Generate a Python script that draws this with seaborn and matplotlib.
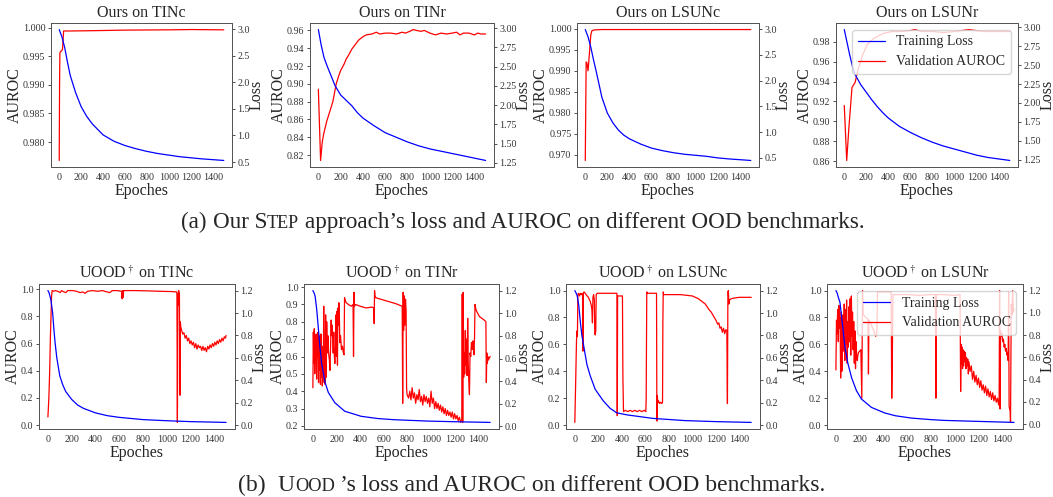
import matplotlib
matplotlib.use("Agg")
import matplotlib.pyplot as plt
from matplotlib.ticker import MultipleLocator
import seaborn as sns

# ---------------- data (epoch, value) ----------------
# top row: our approach
ours_tinc_loss = [(0, 2.99), (25, 2.85), (50, 2.65), (75, 2.38), (100, 2.13), (150, 1.80), (200, 1.54),
                  (250, 1.36), (300, 1.22), (400, 1.01), (500, 0.89), (600, 0.81), (700, 0.75), (800, 0.70),
                  (900, 0.66), (1000, 0.63), (1100, 0.60), (1200, 0.58), (1300, 0.56), (1400, 0.545), (1500, 0.53)]
ours_tinc_auroc = [(0, 0.9768), (3, 0.9900), (6, 0.9955), (10, 0.9958), (20, 0.9959), (30, 0.9962), (40, 0.9994),
                   (100, 0.9994), (300, 0.99945), (600, 0.99955), (1000, 0.9996), (1200, 0.99965), (1500, 0.9996)]

ours_tinr_loss = [(0, 2.98), (25, 2.78), (50, 2.62), (75, 2.52), (100, 2.43), (150, 2.25), (200, 2.13),
                  (250, 2.06), (300, 1.99), (350, 1.90), (400, 1.83), (500, 1.73), (600, 1.64), (700, 1.58),
                  (800, 1.52), (900, 1.47), (1000, 1.43), (1100, 1.40), (1200, 1.37), (1300, 1.34), (1400, 1.31), (1500, 1.28)]
ours_tinr_auroc = [(0, 0.894), (20, 0.814), (35, 0.835), (50, 0.845), (75, 0.858), (100, 0.868), (130, 0.880),
                   (160, 0.900), (180, 0.908), (200, 0.915), (230, 0.922), (250, 0.928), (270, 0.932), (300, 0.939),
                   (330, 0.944), (360, 0.949), (380, 0.951), (400, 0.953), (430, 0.955), (480, 0.956), (520, 0.958),
                   (550, 0.956), (600, 0.957), (650, 0.957), (700, 0.956), (750, 0.958), (780, 0.957), (820, 0.959),
                   (850, 0.961), (880, 0.960), (920, 0.959), (950, 0.960), (1000, 0.957), (1050, 0.955), (1100, 0.957),
                   (1150, 0.956), (1200, 0.957), (1240, 0.958), (1270, 0.955), (1300, 0.957), (1350, 0.957),
                   (1400, 0.955), (1430, 0.957), (1460, 0.956), (1500, 0.956)]

ours_lsunc_loss = [(0, 2.99), (25, 2.85), (50, 2.65), (75, 2.40), (100, 2.17), (150, 1.68), (200, 1.37),
                   (250, 1.18), (300, 1.04), (350, 0.94), (400, 0.87), (500, 0.77), (600, 0.69), (700, 0.64),
                   (800, 0.60), (900, 0.57), (1000, 0.55), (1100, 0.53), (1200, 0.50), (1300, 0.48), (1400, 0.465), (1500, 0.45)]
ours_lsunc_auroc = [(0, 0.9687), (8, 0.9921), (15, 0.9919), (25, 0.9900), (30, 0.9915), (40, 0.9950), (50, 0.9985),
                    (60, 0.9995), (80, 0.9997), (150, 0.9998), (600, 0.9998), (1000, 0.9998), (1500, 0.9998)]

ours_lsunr_loss = [(0, 2.97), (25, 2.80), (50, 2.63), (75, 2.48), (100, 2.37), (150, 2.24), (200, 2.14),
                   (250, 2.04), (300, 1.95), (350, 1.87), (400, 1.80), (500, 1.69), (600, 1.61), (700, 1.54),
                   (800, 1.48), (900, 1.43), (1000, 1.39), (1100, 1.35), (1200, 1.31), (1300, 1.28), (1400, 1.26), (1500, 1.24)]
ours_lsunr_auroc = [(0, 0.916), (22, 0.861), (42, 0.894), (70, 0.934), (98, 0.939), (125, 0.952), (167, 0.967),
                    (209, 0.977), (265, 0.983), (349, 0.988), (432, 0.990), (520, 0.990), (600, 0.991), (640, 0.992),
                    (700, 0.990), (800, 0.990), (900, 0.989), (1000, 0.990), (1130, 0.992), (1250, 0.990),
                    (1400, 0.990), (1500, 0.990)]

# bottom row: UOOD
uood_tinc_loss = [(0, 1.20), (10, 1.18), (25, 1.12), (40, 1.00), (50, 0.86), (60, 0.74), (75, 0.60), (100, 0.44),
                  (125, 0.36), (150, 0.30), (200, 0.23), (250, 0.18), (300, 0.15), (400, 0.11), (500, 0.085),
                  (600, 0.07), (800, 0.05), (1000, 0.04), (1200, 0.032), (1500, 0.025)]
uood_tinc_auroc = [(0, 0.06), (8, 0.20), (15, 0.40), (21, 0.65), (26, 0.80), (31, 0.95), (36, 0.99), (47, 0.985),
                   (63, 0.99), (83, 0.985), (104, 0.975), (115, 0.99), (136, 0.98), (151, 0.975), (167, 0.99),
                   (209, 0.99), (240, 0.985), (271, 0.975), (292, 0.98), (313, 0.97), (334, 0.985), (375, 0.99),
                   (417, 0.985), (459, 0.99), (500, 0.98), (521, 0.975), (542, 0.99), (584, 0.99), (620, 0.985),
                   (625, 0.93), (629, 0.99), (633, 0.94), (637, 0.99), (680, 0.99), (730, 0.99), (835, 0.988),
                   (940, 0.985), (1040, 0.983), (1086, 0.98), (1090, 0.02), (1094, 0.97), (1098, 0.88), (1101, 0.99),
                   (1104, 0.90), (1107, 0.97), (1111, 0.22), (1115, 0.76), (1119, 0.72),
                   (1125, 0.70), (1135, 0.67), (1145, 0.68), (1155, 0.64), (1165, 0.66), (1175, 0.62), (1185, 0.64),
                   (1195, 0.60), (1205, 0.62), (1215, 0.59), (1225, 0.61), (1235, 0.57), (1245, 0.60), (1255, 0.56),
                   (1265, 0.59), (1275, 0.57), (1285, 0.58), (1295, 0.55), (1305, 0.58), (1315, 0.55), (1325, 0.57),
                   (1335, 0.54), (1345, 0.58), (1355, 0.56), (1365, 0.59), (1375, 0.57), (1385, 0.60), (1395, 0.58),
                   (1405, 0.61), (1415, 0.59), (1425, 0.62), (1435, 0.60), (1445, 0.63), (1455, 0.61), (1465, 0.64),
                   (1475, 0.62), (1485, 0.65), (1495, 0.64), (1500, 0.66)]

uood_tinr_loss = [(0, 1.20), (10, 1.18), (19, 1.15), (33, 1.03), (47, 0.86), (61, 0.69), (75, 0.55), (103, 0.39),
                  (131, 0.30), (186, 0.21), (269, 0.135), (408, 0.09), (550, 0.07), (686, 0.06), (964, 0.048),
                  (1200, 0.042), (1500, 0.036)]
uood_tinr_auroc = [(0, 0.42), (4, 0.74), (8, 0.56), (12, 0.76), (16, 0.50), (20, 0.72), (24, 0.58), (28, 0.73),
                   (32, 0.47), (36, 0.70), (40, 0.60), (44, 0.74), (48, 0.45), (52, 0.72), (56, 0.52), (60, 0.71),
                   (64, 0.44), (68, 0.73), (72, 0.48), (76, 0.66), (80, 0.43), (84, 0.55), (88, 0.47), (92, 0.89),
                   (96, 0.45), (100, 0.60), (103, 0.44), (108, 0.84), (112, 0.48), (117, 0.80), (122, 0.62),
                   (127, 0.72), (131, 0.64), (136, 0.60), (140, 0.58), (144, 0.52), (150, 0.66), (155, 0.81),
                   (158, 0.72), (163, 0.78), (168, 0.70), (172, 0.62), (177, 0.74), (182, 0.60), (186, 0.56),
                   (192, 0.66), (196, 0.84), (200, 0.60), (204, 0.86), (208, 0.55), (212, 0.88), (216, 0.78),
                   (220, 0.91), (224, 0.85), (228, 0.68), (234, 0.72), (242, 0.64), (250, 0.66), (258, 0.62),
                   (264, 0.61), (268, 0.94), (275, 0.92), (283, 0.91), (300, 0.90), (325, 0.89), (340, 0.90),
                   (344, 0.60), (348, 0.97), (352, 0.89), (360, 0.90), (400, 0.89), (450, 0.88), (500, 0.885),
                   (515, 0.88), (519, 0.79), (522, 0.98), (525, 0.95), (530, 0.94), (550, 0.935), (600, 0.925),
                   (650, 0.915), (700, 0.905), (756, 0.89), (760, 0.33), (764, 0.97), (768, 0.75), (772, 0.95),
                   (778, 0.78), (784, 0.93), (789, 0.86), (793, 0.42), (797, 0.38),
                   (810, 0.36), (820, 0.40), (830, 0.35), (840, 0.42), (850, 0.36), (860, 0.39), (870, 0.33),
                   (880, 0.38), (890, 0.35), (900, 0.41), (910, 0.34), (920, 0.37), (930, 0.32), (940, 0.38),
                   (950, 0.34), (960, 0.37), (970, 0.33), (980, 0.36), (990, 0.31), (1000, 0.40), (1010, 0.33),
                   (1020, 0.36), (1030, 0.30), (1040, 0.34), (1050, 0.30), (1060, 0.33), (1070, 0.29), (1080, 0.32),
                   (1090, 0.28), (1100, 0.31), (1110, 0.27), (1120, 0.30), (1130, 0.26), (1140, 0.29), (1150, 0.26),
                   (1160, 0.28), (1170, 0.25), (1180, 0.28), (1190, 0.24), (1200, 0.27), (1210, 0.24), (1220, 0.26),
                   (1230, 0.23), (1240, 0.25), (1250, 0.22), (1260, 0.24),
                   (1264, 0.96), (1268, 0.22), (1272, 0.97), (1276, 0.48), (1280, 0.62), (1285, 0.50), (1290, 0.75),
                   (1295, 0.55), (1300, 0.70), (1305, 0.49), (1310, 0.82), (1315, 0.55), (1320, 0.45), (1325, 0.38),
                   (1330, 0.62), (1336, 0.60), (1342, 0.68), (1348, 0.64), (1353, 0.69), (1358, 0.66), (1363, 0.61),
                   (1368, 0.71), (1372, 0.90), (1380, 0.87), (1394, 0.85), (1410, 0.83), (1430, 0.82), (1450, 0.81),
                   (1464, 0.80), (1468, 0.45), (1472, 0.62), (1476, 0.56), (1480, 0.60), (1486, 0.58), (1492, 0.59),
                   (1500, 0.60)]

uood_lsunc_loss = [(0, 1.20), (10, 1.18), (20, 1.155), (34, 1.065), (47, 0.92), (60, 0.80), (75, 0.71),
                   (103, 0.54), (131, 0.44), (173, 0.32), (243, 0.215), (300, 0.15), (355, 0.11), (450, 0.09),
                   (522, 0.08), (662, 0.06), (800, 0.05), (941, 0.04), (1200, 0.031), (1500, 0.024)]
uood_lsunc_auroc = [(0, 0.02), (8, 0.35), (14, 0.62), (18, 0.70), (22, 0.66), (26, 0.97), (32, 0.98), (40, 0.96),
                    (47, 0.98), (54, 0.97), (61, 0.98), (66, 0.96), (70, 0.55), (73, 0.98), (78, 0.99), (89, 0.98),
                    (100, 0.965), (115, 0.95), (131, 0.92), (140, 0.89), (145, 0.86), (150, 0.76), (154, 0.95),
                    (160, 0.97), (166, 0.93), (170, 0.68), (174, 0.67), (178, 0.70), (182, 0.97), (190, 0.98),
                    (201, 0.98), (250, 0.98), (300, 0.98), (358, 0.98), (361, 0.07), (364, 0.96), (380, 0.96),
                    (405, 0.96), (409, 0.35), (414, 0.10), (430, 0.11), (450, 0.10), (470, 0.11), (490, 0.10),
                    (510, 0.11), (530, 0.10), (550, 0.11), (570, 0.10), (590, 0.11), (604, 0.10), (607, 0.20),
                    (612, 0.99), (616, 0.98), (650, 0.98), (695, 0.98), (698, 0.03), (701, 0.22), (706, 0.17),
                    (712, 0.18), (720, 0.16), (730, 0.17), (740, 0.16), (746, 0.17), (749, 0.78), (752, 0.99),
                    (756, 0.97), (800, 0.97), (900, 0.97), (950, 0.965), (1000, 0.96), (1050, 0.94), (1080, 0.92),
                    (1110, 0.90), (1140, 0.86), (1160, 0.84), (1180, 0.81), (1200, 0.78), (1215, 0.75), (1225, 0.76),
                    (1235, 0.72), (1245, 0.73), (1255, 0.69), (1265, 0.72), (1275, 0.68), (1285, 0.71), (1293, 0.70),
                    (1298, 0.16), (1302, 0.99), (1306, 1.0), (1310, 0.90), (1316, 0.93), (1330, 0.94), (1360, 0.945),
                    (1400, 0.95), (1450, 0.95), (1500, 0.95)]

uood_lsunr_loss = [(0, 1.20), (10, 1.18), (20, 1.14), (34, 1.095), (50, 0.945), (75, 0.70), (100, 0.55),
                   (131, 0.42), (173, 0.30), (215, 0.225), (299, 0.15), (411, 0.10), (500, 0.075), (634, 0.054),
                   (800, 0.04), (913, 0.033), (1200, 0.024), (1500, 0.015)]
uood_lsunr_auroc = [(0, 0.41), (5, 0.78), (10, 0.68), (15, 0.86), (20, 0.62), (25, 0.89), (30, 0.72), (35, 0.80),
                    (40, 0.35), (45, 0.84), (50, 0.40), (55, 0.68), (60, 0.82), (65, 0.55), (70, 0.90), (75, 0.48),
                    (80, 0.86), (85, 0.60), (90, 0.93), (95, 0.46), (100, 0.77), (105, 0.58), (110, 0.88),
                    (115, 0.62), (120, 0.94), (125, 0.52), (130, 0.96), (135, 0.66), (140, 0.84), (145, 0.56),
                    (150, 0.77), (155, 0.46), (160, 0.70), (165, 0.42), (170, 0.62), (175, 0.50), (180, 0.48),
                    (185, 0.52), (190, 0.54), (200, 0.55), (210, 0.56), (218, 0.20), (224, 1.0), (230, 0.82),
                    (250, 0.80), (270, 0.79), (274, 0.38), (278, 0.78), (300, 0.74), (320, 0.70), (335, 0.66),
                    (345, 0.68), (350, 0.99), (400, 0.99), (465, 0.99), (470, 0.20), (475, 0.50), (480, 0.97),
                    (600, 0.97), (700, 0.965), (800, 0.97), (838, 0.97), (842, 0.20), (846, 0.97), (900, 0.97),
                    (1000, 0.965), (1045, 0.97), (1050, 0.25), (1054, 0.60), (1058, 0.45), (1062, 0.58), (1066, 0.42),
                    (1070, 0.56), (1075, 0.44), (1080, 0.55), (1085, 0.47), (1090, 0.54), (1095, 0.42), (1100, 0.50),
                    (1105, 0.44), (1110, 0.49), (1115, 0.38), (1120, 0.47), (1130, 0.40), (1140, 0.44), (1150, 0.34),
                    (1160, 0.40), (1170, 0.32), (1180, 0.37), (1190, 0.30), (1200, 0.35), (1210, 0.28), (1220, 0.33),
                    (1230, 0.26), (1240, 0.30), (1250, 0.24), (1260, 0.29), (1270, 0.22), (1280, 0.27), (1290, 0.21),
                    (1300, 0.25), (1310, 0.19), (1320, 0.24), (1330, 0.18), (1340, 0.22), (1350, 0.17), (1360, 0.20),
                    (1370, 0.15), (1374, 0.18), (1378, 1.0), (1382, 0.12), (1386, 0.70), (1392, 0.66), (1398, 0.68),
                    (1404, 0.62), (1410, 0.64), (1416, 0.58), (1422, 0.60), (1428, 0.55), (1434, 0.57), (1440, 0.52),
                    (1446, 0.54), (1450, 0.48), (1454, 0.99), (1458, 0.14), (1462, 0.12), (1466, 0.13), (1470, 0.02),
                    (1476, 0.90), (1482, 0.82), (1488, 1.0), (1494, 0.84), (1500, 0.86)]

top_titles = ["Ours on TINc", "Ours on TINr", "Ours on LSUNc", "Ours on LSUNr"]
bottom_titles = [r"UOOD$^\dagger$ on TINc", r"UOOD$^\dagger$ on TINr",
                 r"UOOD$^\dagger$ on LSUNc", r"UOOD$^\dagger$ on LSUNr"]

# ---------------- style ----------------
sns.set_style("white", {"axes.edgecolor": "#555555"})
plt.rcParams["font.family"] = ["Liberation Serif", "DejaVu Serif"]
plt.rcParams["mathtext.fontset"] = "stix"

fig = plt.figure(figsize=(10.53, 4.97), dpi=100)
W, H = 1053, 497


def panel(box, title, loss, auroc, steps, legend=False):
    l, t, r, b = box
    ax = fig.add_axes([l / W, 1 - b / H, (r - l) / W, (b - t) / H])
    ax2 = ax.twinx()
    ex, ev = zip(*auroc)
    sns.lineplot(x=list(ex), y=list(ev), ax=ax, color="red", linewidth=0.9,
                 estimator=None, sort=False, legend=False)
    lx, lv = zip(*loss)
    sns.lineplot(x=list(lx), y=list(lv), ax=ax2, color="blue", linewidth=0.9,
                 estimator=None, sort=False, legend=False)
    ax.set_xticks(range(0, 1401, 200))
    ax.yaxis.set_major_locator(MultipleLocator(steps[0]))
    ax2.yaxis.set_major_locator(MultipleLocator(steps[1]))
    ax.ticklabel_format(axis="y", useOffset=False)
    ax2.ticklabel_format(axis="y", useOffset=False)
    for a in (ax, ax2):
        a.tick_params(labelsize=7.2, length=2.5, width=0.6, pad=1.5, colors="#333333")
        for s in a.spines.values():
            s.set_linewidth(0.7)
    ax.set_title(title, fontsize=11.5, pad=4)
    ax.set_xlabel("Epoches", fontsize=11.5, labelpad=1)
    ax.set_ylabel("AUROC", fontsize=11.5, labelpad=0)
    ax2.set_ylabel("Loss", fontsize=11.5, labelpad=-1)
    if legend:
        handles = [ax2.get_lines()[0], ax.get_lines()[0]]
        ax2.legend(handles, ["Training Loss", "Validation AUROC"], loc="upper right",
                   fontsize=10, framealpha=0.8, edgecolor="0.8")
    return ax, ax2


top_boxes = [(51, 23, 232, 167), (310, 23, 494, 167), (577, 23, 759, 167), (836, 23, 1018, 167)]
bot_boxes = [(39, 284, 235, 429), (304, 284, 499, 429), (566, 284, 760, 429), (827, 284, 1023, 429)]
top_steps = [(0.005, 0.5), (0.02, 0.25), (0.005, 0.5), (0.02, 0.25)]
bot_steps = [(0.2, 0.2), (0.1, 0.2), (0.2, 0.2), (0.2, 0.2)]

top_data = [(ours_tinc_loss, ours_tinc_auroc), (ours_tinr_loss, ours_tinr_auroc),
            (ours_lsunc_loss, ours_lsunc_auroc), (ours_lsunr_loss, ours_lsunr_auroc)]
bot_data = [(uood_tinc_loss, uood_tinc_auroc), (uood_tinr_loss, uood_tinr_auroc),
            (uood_lsunc_loss, uood_lsunc_auroc), (uood_lsunr_loss, uood_lsunr_auroc)]

for i in range(4):
    panel(top_boxes[i], top_titles[i], *top_data[i], top_steps[i], legend=(i == 3))
    panel(bot_boxes[i], bottom_titles[i], *bot_data[i], bot_steps[i], legend=(i == 3))


# captions with small caps pieces
def caption(xc_px, y_px, pieces, size):
    rend = fig.canvas.get_renderer()

    def wid(s, fs):
        t = fig.text(0, 0, s, fontsize=fs)
        w = t.get_window_extent(rend).width
        t.remove()
        return w

    sp = wid("a a", size) - wid("aa", size)
    xs, x = [], 0.0
    for s, k, gap in pieces:
        x += gap * sp
        xs.append(x)
        x += wid(s, size * k)
    x0 = xc_px - x / 2
    for (s, k, gap), xi in zip(pieces, xs):
        fig.text((x0 + xi) / W, 1 - y_px / H, s, fontsize=size * k, va="baseline", ha="left")


caption(523, 228, [("(a)", 1, 0), ("Our S", 1, 1), ("TEP", 0.78, 0),
                   ("approach\u2019s loss and AUROC on different OOD benchmarks.", 1, 1)], 16.7)
caption(532, 491, [("(b)", 1, 0), ("U", 1, 2), ("OOD", 0.78, 0),
                   ("\u2019s loss and AUROC on different OOD benchmarks.", 1, 1)], 17.0)

fig.savefig("out.png", dpi=100)
